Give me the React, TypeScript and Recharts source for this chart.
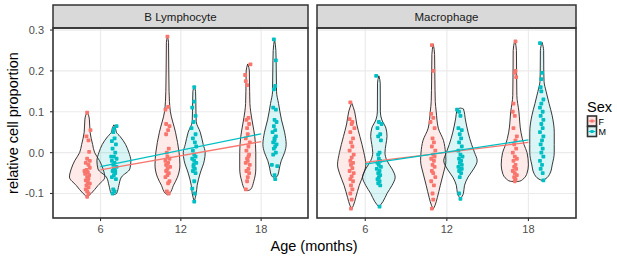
import React from "react";
import { ComposedChart, Area, Scatter, XAxis, YAxis, CartesianGrid } from "recharts";

const F_COLOR = "#F8766D";
const M_COLOR = "#00BFC4";

const ageTicks = [6, 12, 18];
const yTicks = [-0.1, 0, 0.1, 0.2, 0.3];
const yGrid = [-0.1, -0.05, 0, 0.05, 0.1, 0.15, 0.2, 0.25, 0.3];
const xDomain = [2.45, 21.5];
const yDomain = [-0.16, 0.305];

type Prof = [number, number][]; // [y, half width in months]
type Pts = [number, number][]; // [x, y]

// ---- B Lymphocyte violins ----
const bF6: Prof = [[-0.109, 0], [-0.1, 0.3], [-0.08, 0.82], [-0.06, 1.32], [-0.04, 1.19], [-0.02, 0.93], [0, 0.56], [0.02, 0.41], [0.05, 0.22], [0.08, 0.17], [0.09, 0.12], [0.099, 0]];
const bM6: Prof = [[-0.103, 0], [-0.1, 0.2], [-0.08, 0.37], [-0.06, 0.56], [-0.04, 1.19], [-0.02, 1.27], [0, 1.12], [0.02, 0.87], [0.04, 0.45], [0.05, 0.18], [0.06, 0.12], [0.068, 0]];
const bF12: Prof = [[-0.103, 0], [-0.1, 0.15], [-0.08, 0.45], [-0.06, 0.75], [-0.03, 0.93], [0, 0.87], [0.05, 0.6], [0.1, 0.22], [0.125, 0.15], [0.15, 0.12], [0.2, 0.1], [0.27, 0.08], [0.284, 0]];
const bM12: Prof = [[-0.12, 0], [-0.1, 0.15], [-0.08, 0.22], [-0.05, 0.45], [-0.02, 0.75], [0, 0.82], [0.02, 0.67], [0.05, 0.45], [0.076, 0.15], [0.1, 0.13], [0.15, 0.1], [0.161, 0]];
const bF18: Prof = [[-0.093, 0], [-0.09, 0.22], [-0.07, 0.45], [-0.04, 0.6], [0, 0.6], [0.04, 0.52], [0.07, 0.37], [0.1, 0.22], [0.12, 0.16], [0.15, 0.14], [0.2, 0.12], [0.217, 0]];
const bM18: Prof = [[-0.064, 0], [-0.055, 0.25], [-0.04, 0.35], [-0.02, 0.5], [0, 0.75], [0.02, 0.87], [0.05, 0.75], [0.08, 0.52], [0.12, 0.3], [0.149, 0.15], [0.2, 0.13], [0.25, 0.1], [0.278, 0]];

// ---- Macrophage violins ----
const mF6: Prof = [[-0.138, 0], [-0.13, 0.12], [-0.11, 0.3], [-0.08, 0.56], [-0.05, 0.9], [-0.03, 1.04], [0, 0.9], [0.04, 0.6], [0.07, 0.37], [0.1, 0.22], [0.122, 0]];
const mM6: Prof = [[-0.133, 0], [-0.12, 0.3], [-0.1, 0.6], [-0.08, 0.97], [-0.06, 1.2], [-0.04, 0.97], [-0.02, 0.6], [0, 0.45], [0.02, 0.52], [0.04, 0.6], [0.06, 0.52], [0.08, 0.22], [0.1, 0.11], [0.17, 0.1], [0.188, 0]];
const mF12: Prof = [[-0.138, 0], [-0.13, 0.12], [-0.11, 0.3], [-0.08, 0.52], [-0.05, 0.75], [-0.02, 0.93], [0, 0.9], [0.03, 0.75], [0.06, 0.37], [0.1, 0.22], [0.125, 0.15], [0.18, 0.12], [0.24, 0.1], [0.266, 0]];
const mM12: Prof = [[-0.113, 0], [-0.1, 0.22], [-0.08, 0.3], [-0.06, 0.56], [-0.04, 0.97], [-0.02, 1.23], [0, 1.04], [0.02, 0.82], [0.05, 0.56], [0.08, 0.37], [0.107, 0.22], [0.109, 0]];
const mF18: Prof = [[-0.071, 0], [-0.07, 0.35], [-0.065, 0.6], [-0.05, 0.9], [-0.03, 1.0], [0, 0.9], [0.02, 0.67], [0.05, 0.45], [0.1, 0.3], [0.14, 0.15], [0.2, 0.13], [0.25, 0.12], [0.275, 0]];
const mM18: Prof = [[-0.068, 0], [-0.065, 0.22], [-0.05, 0.6], [-0.03, 0.75], [0, 0.9], [0.02, 0.9], [0.05, 0.9], [0.09, 0.75], [0.12, 0.52], [0.15, 0.3], [0.174, 0.15], [0.2, 0.13], [0.25, 0.12], [0.27, 0]];

// ---- jittered observations ----
const bPtsF: Pts = [
  [5.0, 0.098], [5.25, 0.055], [4.95, 0.04], [5.1, 0.03], [5.15, 0.002], [5.0, -0.015], [4.9, -0.025], [5.1, -0.03], [5.2, -0.037], [4.95, -0.042], [5.05, -0.048], [4.85, -0.052], [5.15, -0.055], [5.0, -0.06], [5.1, -0.064], [4.9, -0.068], [5.05, -0.072], [5.2, -0.076], [4.95, -0.08], [5.1, -0.085], [4.9, -0.09], [5.0, -0.095], [5.1, -0.1], [5.0, -0.108], [4.8, -0.045], [5.2, -0.02],
  [11.0, 0.284], [11.05, 0.112], [10.85, 0.105], [10.9, 0.07], [11.15, 0.065], [11.05, 0.055], [10.9, 0.045], [11.1, 0.01], [10.95, 0.0], [11.0, -0.01], [11.15, -0.015], [10.85, -0.02], [11.05, -0.025], [10.95, -0.03], [11.2, -0.035], [11.0, -0.04], [10.9, -0.045], [11.1, -0.05], [11.0, -0.055], [10.85, -0.06], [11.15, -0.07], [11.05, -0.075], [10.95, -0.095], [11.1, -0.1], [10.9, -0.03],
  [17.2, 0.216], [16.8, 0.19], [16.85, 0.175], [16.95, 0.165], [17.05, 0.085], [16.9, 0.08], [17.1, 0.07], [16.95, 0.06], [17.0, 0.045], [16.85, 0.035], [17.15, 0.025], [17.05, 0.015], [16.9, 0.005], [17.1, -0.005], [16.95, -0.015], [17.0, -0.02], [16.85, -0.025], [17.15, -0.03], [17.05, -0.04], [16.9, -0.045], [17.1, -0.05], [17.0, -0.06], [16.95, -0.07], [16.85, -0.09], [17.05, -0.01],
];
const bPtsM: Pts = [
  [7.2, 0.065], [7.0, 0.058], [6.95, 0.05], [7.05, 0.035], [6.85, 0.028], [7.15, 0.02], [6.9, 0.01], [7.1, 0.0], [7.0, -0.01], [7.2, -0.015], [6.85, -0.02], [7.05, -0.025], [6.95, -0.03], [7.2, -0.035], [7.0, -0.04], [6.9, -0.045], [7.1, -0.05], [7.0, -0.055], [6.85, -0.06], [7.15, -0.065], [6.95, -0.09], [7.05, -0.095], [6.9, -0.1], [7.1, -0.045], [6.8, -0.01],
  [13.0, 0.16], [13.0, 0.125], [12.85, 0.11], [13.1, 0.09], [12.95, 0.075], [12.8, 0.06], [13.1, 0.045], [12.9, 0.035], [13.05, 0.025], [13.15, 0.015], [12.9, 0.005], [13.0, -0.005], [13.1, -0.01], [12.85, -0.015], [13.0, -0.02], [13.15, -0.025], [12.95, -0.03], [13.05, -0.04], [12.9, -0.045], [13.1, -0.05], [13.0, -0.07], [12.85, -0.088], [13.05, -0.1], [13.0, -0.12], [12.95, -0.035],
  [18.95, 0.277], [19.1, 0.226], [19.05, 0.163], [18.95, 0.155], [18.9, 0.11], [19.1, 0.105], [19.0, 0.08], [19.15, 0.075], [18.95, 0.065], [19.05, 0.055], [18.85, 0.05], [19.1, 0.04], [19.0, 0.035], [18.9, 0.025], [19.15, 0.02], [19.05, 0.015], [18.95, 0.01], [19.1, 0.0], [18.9, -0.005], [18.8, -0.03], [19.2, -0.033], [19.0, -0.055], [19.05, -0.065], [19.0, 0.03],
];
const mPtsF: Pts = [
  [4.9, 0.123], [4.85, 0.082], [5.05, 0.075], [5.0, 0.07], [5.2, 0.06], [4.9, 0.05], [5.1, 0.035], [4.95, 0.025], [5.05, 0.015], [4.85, 0.005], [5.15, -0.005], [5.0, -0.012], [4.9, -0.02], [5.1, -0.025], [4.95, -0.03], [5.05, -0.038], [4.85, -0.045], [5.15, -0.05], [5.0, -0.058], [4.9, -0.065], [5.1, -0.07], [4.95, -0.08], [5.05, -0.09], [4.9, -0.1], [5.0, -0.115], [4.95, -0.137],
  [10.9, 0.263], [11.0, 0.2], [10.85, 0.095], [11.0, 0.085], [10.8, 0.075], [11.1, 0.06], [10.95, 0.035], [11.05, 0.025], [10.9, 0.015], [11.15, 0.005], [11.0, -0.005], [10.85, -0.015], [11.05, -0.02], [10.95, -0.03], [11.1, -0.035], [10.9, -0.045], [11.0, -0.05], [11.15, -0.06], [10.85, -0.07], [11.05, -0.08], [10.95, -0.1], [11.0, -0.115], [10.9, -0.137], [11.1, -0.01],
  [17.05, 0.272], [17.05, 0.2], [17.0, 0.195], [17.1, 0.185], [16.9, 0.12], [16.85, 0.1], [17.0, 0.09], [16.9, 0.06], [17.15, 0.04], [17.05, 0.03], [16.95, 0.02], [17.1, 0.01], [16.85, 0.0], [17.0, -0.01], [17.15, -0.015], [16.9, -0.02], [17.05, -0.03], [16.95, -0.035], [17.1, -0.04], [16.85, -0.045], [17.0, -0.05], [17.15, -0.055], [16.95, -0.06], [17.05, -0.065], [17.0, -0.07],
];
const mPtsM: Pts = [
  [6.8, 0.188], [7.0, 0.075], [7.2, 0.07], [6.9, 0.06], [7.1, 0.045], [6.95, 0.04], [7.15, 0.03], [7.05, 0.0], [6.95, -0.005], [7.1, -0.02], [6.9, -0.025], [7.0, -0.03], [7.15, -0.035], [6.85, -0.04], [7.05, -0.045], [6.95, -0.05], [7.1, -0.055], [7.0, -0.06], [6.9, -0.065], [7.05, -0.07], [6.95, -0.075], [7.1, -0.08], [7.05, -0.132], [7.0, -0.015],
  [12.75, 0.105], [12.9, 0.1], [13.0, 0.09], [12.85, 0.06], [13.1, 0.055], [12.95, 0.045], [13.05, 0.035], [12.9, 0.025], [13.1, 0.015], [12.85, 0.005], [13.0, -0.005], [13.15, -0.01], [12.9, -0.015], [13.05, -0.02], [12.95, -0.025], [13.1, -0.03], [12.85, -0.035], [13.0, -0.04], [12.9, -0.045], [13.05, -0.05], [12.95, -0.06], [12.9, -0.1], [13.0, -0.113], [13.1, -0.04],
  [18.85, 0.268], [19.0, 0.195], [18.95, 0.18], [18.9, 0.16], [18.95, 0.15], [19.1, 0.13], [18.95, 0.12], [18.85, 0.11], [19.05, 0.1], [18.9, 0.09], [19.1, 0.08], [18.95, 0.07], [19.05, 0.06], [18.85, 0.05], [19.1, 0.04], [19.0, 0.03], [18.9, 0.02], [19.05, 0.01], [18.95, 0.0], [19.1, -0.01], [18.85, -0.02], [19.0, -0.03], [18.9, -0.04], [19.05, -0.05], [19.1, -0.068],
];

// ---- linear fits, [age, value] ----
const bFitF: Pts = [[6, -0.042], [18, 0.027]];
const bFitM: Pts = [[6, -0.034], [18, 0.046]];
const mFitF: Pts = [[6, -0.024], [18, 0.025]];
const mFitM: Pts = [[6, -0.028], [18, 0.031]];

const toViolin = (center: number, prof: Prof) =>
  prof.map(([y, w]) => ({ y, band: [center - w, center + w] }));
const toXY = (pts: Pts) => pts.map(([x, y]) => ({ x, y }));

const square = (color: string) => (p: any) =>
  p.cx == null ? <g /> : <rect x={p.cx - 1.9} y={p.cy - 1.9} width={3.8} height={3.8} rx={0.8} fill={color} />;

type PanelDef = {
  violinsF: [number, Prof][];
  violinsM: [number, Prof][];
  ptsF: Pts;
  ptsM: Pts;
  fitF: Pts;
  fitM: Pts;
};

const panels: PanelDef[] = [
  { violinsF: [[5, bF6], [11, bF12], [17, bF18]], violinsM: [[7, bM6], [13, bM12], [19, bM18]], ptsF: bPtsF, ptsM: bPtsM, fitF: bFitF, fitM: bFitM },
  { violinsF: [[5, mF6], [11, mF12], [17, mF18]], violinsM: [[7, mM6], [13, mM12], [19, mM18]], ptsF: mPtsF, ptsM: mPtsM, fitF: mFitF, fitM: mFitM },
];

const Panel = ({ def, width, margin, showY }: { def: PanelDef; width: number; margin: any; showY: boolean }) => {
  const violins: { color: string; data: any[] }[] = [];
  def.violinsF.forEach(([c, p], i) => {
    violins.push({ color: F_COLOR, data: toViolin(c, p) });
    violins.push({ color: M_COLOR, data: toViolin(...def.violinsM[i]) });
  });
  return (
    <ComposedChart width={width} height={260} layout="vertical" margin={margin}>
      <CartesianGrid stroke="#ebebeb" strokeWidth={1.2} horizontalValues={yGrid} verticalValues={ageTicks} />
      <XAxis
        type="number"
        dataKey="x"
        domain={xDomain}
        ticks={ageTicks}
        allowDataOverflow
        axisLine={false}
        tickSize={3}
        tickMargin={4}
        height={20}
        tickLine={{ stroke: "#333", strokeWidth: 1.1 }}
        tick={{ fontSize: 11, fill: "#4d4d4d" }}
      />
      <YAxis
        type="number"
        dataKey="y"
        domain={yDomain}
        ticks={yTicks}
        reversed
        allowDataOverflow
        hide={!showY}
        axisLine={false}
        width={53}
        tickSize={3}
        tickMargin={6}
        tickFormatter={(v: number) => v.toFixed(1)}
        tickLine={{ stroke: "#333", strokeWidth: 1.1 }}
        tick={{ fontSize: 11, fill: "#4d4d4d" }}
      />
      {violins.map((v, i) => (
        <Area
          key={"v" + i}
          data={v.data}
          dataKey="band"
          type="monotone"
          stroke="#222"
          strokeWidth={0.9}
          fill={v.color}
          fillOpacity={0.15}
          dot={false}
          activeDot={false}
          isAnimationActive={false}
        />
      ))}
      <Scatter data={toXY(def.ptsF)} fill={F_COLOR} shape={square(F_COLOR)} isAnimationActive={false} />
      <Scatter data={toXY(def.ptsM)} fill={M_COLOR} shape={square(M_COLOR)} isAnimationActive={false} />
      <Scatter data={toXY(def.fitF)} fill={F_COLOR} line={{ stroke: F_COLOR, strokeWidth: 1.3 }} shape={() => <g />} isAnimationActive={false} />
      <Scatter data={toXY(def.fitM)} fill={M_COLOR} line={{ stroke: M_COLOR, strokeWidth: 1.3 }} shape={() => <g />} isAnimationActive={false} />
    </ComposedChart>
  );
};

export default function App() {
  return (
    <div style={{ position: "absolute", left: 0, top: 0, width: 617, height: 260, background: "#fff", fontFamily: "'Liberation Sans', Arial, sans-serif" }}>
      <div style={{ position: "absolute", left: 0, top: 0 }}>
        <Panel def={panels[0]} width={310} margin={{ top: 28, right: 2, bottom: 22, left: 0 }} showY />
      </div>
      <div style={{ position: "absolute", left: 310, top: 0 }}>
        <Panel def={panels[1]} width={270} margin={{ top: 28, right: 4, bottom: 22, left: 7 }} showY={false} />
      </div>
      <svg width={617} height={260} style={{ position: "absolute", left: 0, top: 0, pointerEvents: "none" }}>
        <rect x={53} y={5} width={255} height={23} fill="#d9d9d9" stroke="#333" strokeWidth={1.5} />
        <text x={180.5} y={16.5} fontSize={11.5} fill="#1a1a1a" textAnchor="middle" dominantBaseline="central">B Lymphocyte</text>
        <rect x={317} y={5} width={259} height={23} fill="#d9d9d9" stroke="#333" strokeWidth={1.5} />
        <text x={446.5} y={16.5} fontSize={11.5} fill="#1a1a1a" textAnchor="middle" dominantBaseline="central">Macrophage</text>
        <rect x={53} y={28} width={255} height={190} fill="none" stroke="#333" strokeWidth={1.6} />
        <rect x={317} y={28} width={259} height={190} fill="none" stroke="#333" strokeWidth={1.6} />
        <text x={13} y={123} fontSize={14.5} textAnchor="middle" dominantBaseline="central" transform="rotate(-90 13 123)">relative cell proportion</text>
        <text x={314} y={246} fontSize={14.5} textAnchor="middle" dominantBaseline="central">Age (months)</text>
        <text x={587} y={112} fontSize={14.5}>Sex</text>
        <rect x={587.5} y={116} width={9} height={10} fill="#fde4e2" stroke="#333" strokeWidth={1.6} />
        <line x1={588.5} x2={595.5} y1={121} y2={121} stroke={F_COLOR} strokeWidth={1.2} />
        <rect x={590.5} y={119.5} width={3} height={3} fill={F_COLOR} />
        <rect x={587.5} y={126.5} width={9} height={10} fill="#d9f3f4" stroke="#333" strokeWidth={1.6} />
        <line x1={588.5} x2={595.5} y1={131.5} y2={131.5} stroke={M_COLOR} strokeWidth={1.2} />
        <rect x={590.5} y={130} width={3} height={3} fill={M_COLOR} />
        <text x={598.5} y={124.5} fontSize={9}>F</text>
        <text x={598.5} y={135} fontSize={9}>M</text>
      </svg>
    </div>
  );
}
